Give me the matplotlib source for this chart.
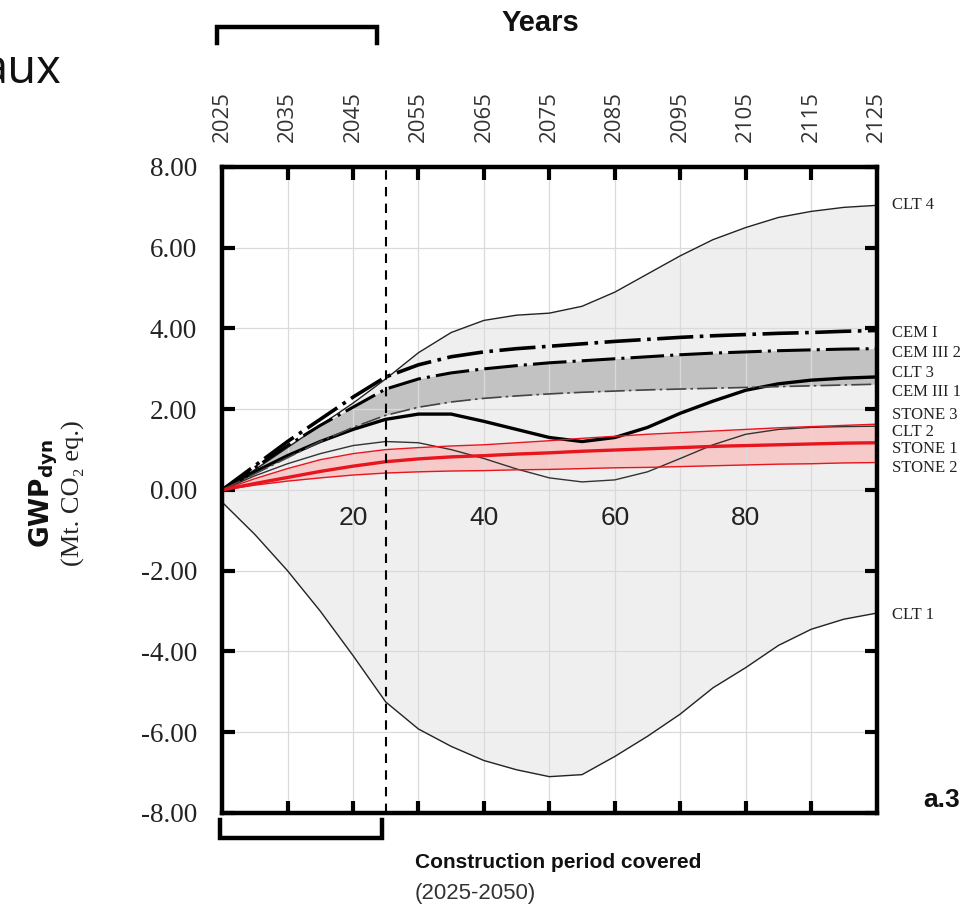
import numpy as np
import matplotlib
matplotlib.use("Agg")
import matplotlib.pyplot as plt
from matplotlib.transforms import blended_transform_factory
from matplotlib.lines import Line2D

# ---------------- data ----------------
t = [0, 5, 10, 15, 20, 25, 30, 35, 40, 45, 50, 55, 60, 65, 70, 75, 80, 85, 90, 95, 100]

clt4 = [0.0, 0.5, 1.05, 1.6, 2.15, 2.75, 3.4, 3.9, 4.2, 4.33, 4.38, 4.55, 4.9, 5.35,
        5.8, 6.2, 6.5, 6.75, 6.9, 7.0, 7.05]
clt1 = [-0.3, -1.1, -2.0, -3.0, -4.1, -5.25, -5.92, -6.35, -6.7, -6.93, -7.1, -7.05,
        -6.6, -6.1, -5.55, -4.9, -4.4, -3.85, -3.45, -3.2, -3.05]
cem1 = [0.0, 0.6, 1.2, 1.75, 2.3, 2.8, 3.1, 3.3, 3.42, 3.5, 3.56, 3.62, 3.68, 3.73,
        3.78, 3.82, 3.85, 3.88, 3.9, 3.93, 3.95]
cem3_2 = [0.0, 0.55, 1.1, 1.6, 2.05, 2.5, 2.75, 2.9, 3.0, 3.08, 3.15, 3.2, 3.25, 3.3,
          3.35, 3.39, 3.42, 3.45, 3.47, 3.49, 3.5]
cem3_1 = [0.0, 0.4, 0.8, 1.2, 1.55, 1.85, 2.05, 2.18, 2.27, 2.33, 2.38, 2.42, 2.45,
          2.48, 2.5, 2.52, 2.54, 2.56, 2.58, 2.6, 2.62]
clt3 = [0.0, 0.45, 0.85, 1.2, 1.5, 1.75, 1.88, 1.88, 1.7, 1.5, 1.3, 1.2, 1.3, 1.55,
        1.9, 2.2, 2.47, 2.63, 2.72, 2.77, 2.8]
clt2 = [0.0, 0.35, 0.65, 0.9, 1.1, 1.2, 1.17, 1.0, 0.78, 0.52, 0.3, 0.2, 0.25, 0.45,
        0.78, 1.12, 1.38, 1.5, 1.55, 1.57, 1.58]
stone3 = [0.0, 0.28, 0.53, 0.75, 0.9, 1.0, 1.05, 1.09, 1.12, 1.17, 1.22, 1.28, 1.33,
          1.38, 1.42, 1.46, 1.5, 1.54, 1.57, 1.6, 1.63]
stone1 = [0.0, 0.16, 0.31, 0.46, 0.59, 0.7, 0.77, 0.82, 0.85, 0.89, 0.92, 0.96, 0.99,
          1.02, 1.05, 1.08, 1.1, 1.12, 1.14, 1.16, 1.17]
stone2 = [0.0, 0.12, 0.22, 0.3, 0.37, 0.42, 0.45, 0.47, 0.48, 0.5, 0.51, 0.53, 0.55,
          0.56, 0.58, 0.6, 0.62, 0.64, 0.65, 0.67, 0.68]

series_names = ["CLT 4", "CEM I", "CEM III 2", "CLT 3", "CEM III 1", "STONE 3",
                "CLT 2", "STONE 1", "STONE 2", "CLT 1"]
label_y = [7.05, 3.88, 3.39, 2.89, 2.43, 1.86, 1.44, 1.02, 0.54, -3.1]

x_ticks = [10, 20, 30, 40, 50, 60, 70, 80, 90]
inner_labels = [20, 40, 60, 80]
top_ticks = [0, 10, 20, 30, 40, 50, 60, 70, 80, 90, 100]
top_labels = ["2025", "2035", "2045", "2055", "2065", "2075", "2085", "2095",
              "2105", "2115", "2125"]
y_ticks = [-8, -6, -4, -2, 0, 2, 4, 6, 8]
construction_end = 25

# ---------------- figure ----------------
SERIF = ["Liberation Serif", "DejaVu Serif"]
SANS = ["Liberation Sans", "DejaVu Sans"]

fig = plt.figure(figsize=(9.74, 9.10), dpi=100)
ax = fig.add_axes([0.228, 0.1066, 0.672, 0.7099])
ax.set_xlim(0, 100)
ax.set_ylim(-8, 8)

# grid (drawn above the fills, below the curves)
ax.set_axisbelow(False)
ax.set_xticks(x_ticks)
ax.set_yticks(y_ticks)
ax.grid(True, color="#dadada", lw=0.9)

# fills
ax.fill_between(t, clt1, clt4, color="#efefef", lw=0, zorder=1)
ax.fill_between(t, cem3_1, cem3_2, color="#c2c2c2", lw=0, zorder=2)
ax.fill_between(t, stone2, stone3, color="#f7caca", lw=0, zorder=2)

# lines
ax.plot(t, clt4, color="#222222", lw=1.0, zorder=4)
ax.plot(t, clt1, color="#222222", lw=1.0, zorder=4)
ax.plot(t, clt2, color="#333333", lw=1.0, zorder=4)
ax.plot(t, clt3, color="black", lw=2.4, zorder=5)
ax.plot(t, cem1, color="black", lw=2.6, zorder=5, dashes=(10, 1.8, 1, 1.8))
ax.plot(t, cem3_2, color="black", lw=2.2, zorder=5, dashes=(11, 2.0, 1, 2.0))
ax.plot(t, cem3_1, color="#444444", lw=1.2, zorder=5, dashes=(12, 2.5, 1.5, 2.5))
ax.plot(t, stone3, color="#e8141e", lw=1.0, zorder=6)
ax.plot(t, stone2, color="#e8141e", lw=1.0, zorder=6)
ax.plot(t, stone1, color="#e8141e", lw=2.4, zorder=6)

ax.axvline(construction_end, color="black", lw=1.5, dashes=(4.5, 3.5), zorder=7)

# spines & ticks
for s in ax.spines.values():
    s.set_linewidth(3.2)
    s.set_zorder(8)
ax.tick_params(axis="both", which="major", direction="in", length=9, width=3,
               top=True, right=True, labelbottom=False, colors="black")
ax.tick_params(axis="y", labelsize=19.5, pad=18, labelcolor="#222222")
ax.set_yticklabels([f"{v:.2f}" for v in y_ticks], family=SERIF)

# inner x labels
for v in inner_labels:
    ax.text(v, -0.7, str(v), ha="center", va="center", fontsize=19,
            family=SANS, color="#222222", zorder=9)

# top year axis
sec = ax.secondary_xaxis("top")
sec.set_xticks(top_ticks)
sec.set_xticklabels(top_labels, rotation=90, fontsize=16, family=["Open Sans", "DejaVu Sans"],
                    color="#333333")
sec.tick_params(length=0, pad=18)
sec.spines["top"].set_visible(False)

# right labels
tr = blended_transform_factory(ax.transAxes, ax.transData)
for name, y in zip(series_names, label_y):
    ax.text(1.023, y, name, transform=tr, fontsize=12, family=SERIF,
            va="center", ha="left", color="#222222")

# panel tag
fig.text(0.948, 0.121, "a.3", fontsize=19, fontweight="bold", family=SANS,
         ha="left", va="center", color="#111111")

# axis labels
fig.text(0.045, 0.458, r"$\mathbf{GWP}_{\mathbf{dyn}}$", rotation=90, fontsize=19,
         ha="center", va="center", color="#111111")
fig.text(0.075, 0.458, "(Mt. CO\u2082 eq.)", rotation=90, fontsize=19,
         family=SERIF, ha="center", va="center", color="#222222")

# brackets
btr = blended_transform_factory(ax.transData, fig.transFigure)
top_br = Line2D([-0.8, -0.8, 23.7, 23.7], [0.953, 0.970, 0.970, 0.953],
                transform=btr, color="black", lw=3.2, clip_on=False,
                solid_joinstyle="miter")
bot_br = Line2D([-0.3, -0.3, 24.4, 24.4], [0.099, 0.079, 0.079, 0.099],
                transform=btr, color="black", lw=3.2, clip_on=False,
                solid_joinstyle="miter")
fig.add_artist(top_br)
fig.add_artist(bot_br)

fig.text(0.555, 0.975, "Years", fontsize=21, fontweight="bold", family=SANS,
         ha="center", va="center", color="#111111")
fig.text(0.426, 0.052, "Construction period covered", fontsize=15, fontweight="bold",
         family=SANS, ha="left", va="center", color="#111111")
fig.text(0.426, 0.018, "(2025-2050)", fontsize=16, family=SANS,
         ha="left", va="center", color="#333333")

# cropped fragment from surrounding page
fig.text(-0.019, 0.909, "aux", fontsize=34, family=["Open Sans", "DejaVu Sans"],
         ha="left", va="baseline", color="#111111")

fig.savefig("out.png", dpi=100)
